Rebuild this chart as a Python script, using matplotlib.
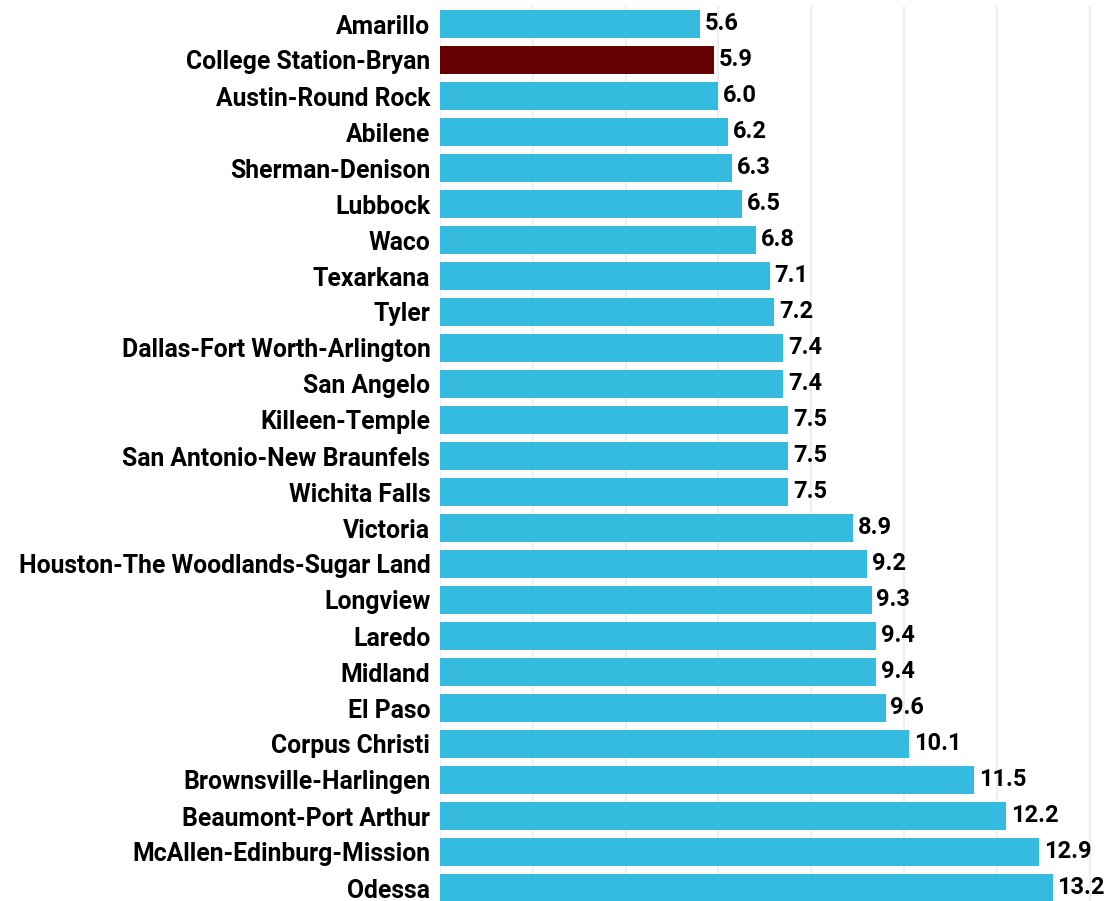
import matplotlib
matplotlib.use("Agg")
import matplotlib.pyplot as plt

# metro areas, top to bottom
metros = ["Amarillo", "College Station-Bryan", "Austin-Round Rock", "Abilene",
          "Sherman-Denison", "Lubbock", "Waco", "Texarkana", "Tyler",
          "Dallas-Fort Worth-Arlington", "San Angelo", "Killeen-Temple",
          "San Antonio-New Braunfels", "Wichita Falls", "Victoria",
          "Houston-The Woodlands-Sugar Land", "Longview", "Laredo", "Midland",
          "El Paso", "Corpus Christi", "Brownsville-Harlingen",
          "Beaumont-Port Arthur", "McAllen-Edinburg-Mission", "Odessa"]
values = [5.6, 5.9, 6.0, 6.2, 6.3, 6.5, 6.8, 7.1, 7.2, 7.4, 7.4, 7.5, 7.5, 7.5,
          8.9, 9.2, 9.3, 9.4, 9.4, 9.6, 10.1, 11.5, 12.2, 12.9, 13.2]
highlight = "College Station-Bryan"

blue = "#35BAE0"
maroon = "#650000"

lab_font = dict(family="Roboto", weight="bold", size=17.8)
val_font = dict(family="Roboto", weight="bold", size=17)

fig = plt.figure(figsize=(11.06, 9.01), dpi=100)
ax = fig.add_axes([440 / 1106, -5 / 901, 666 / 1106, 900 / 901])

colors = [maroon if m == highlight else blue for m in metros]
ypos = list(range(len(metros)))
bars = ax.barh(ypos, values, height=0.78, color=colors, zorder=3)

for y, v in zip(ypos, values):
    ax.annotate(f"{v:.1f}", (v, y), xytext=(3.5, 0), textcoords="offset points",
                va="center", ha="left", color="black", **val_font)

ax.set_yticks(ypos)
ax.set_yticklabels(metros, **lab_font)
ax.set_ylim(len(metros) - 0.5, -0.5)
ax.set_xlim(0, 14.35)
ax.set_xticks(range(0, 15, 2))
ax.set_xticklabels([])
ax.tick_params(axis="both", length=0)
ax.tick_params(axis="y", pad=7)
ax.grid(axis="x", color="#EEEEEE", linewidth=1.5, zorder=0)
for s in ax.spines.values():
    s.set_visible(False)

fig.savefig("out.png", dpi=100)
